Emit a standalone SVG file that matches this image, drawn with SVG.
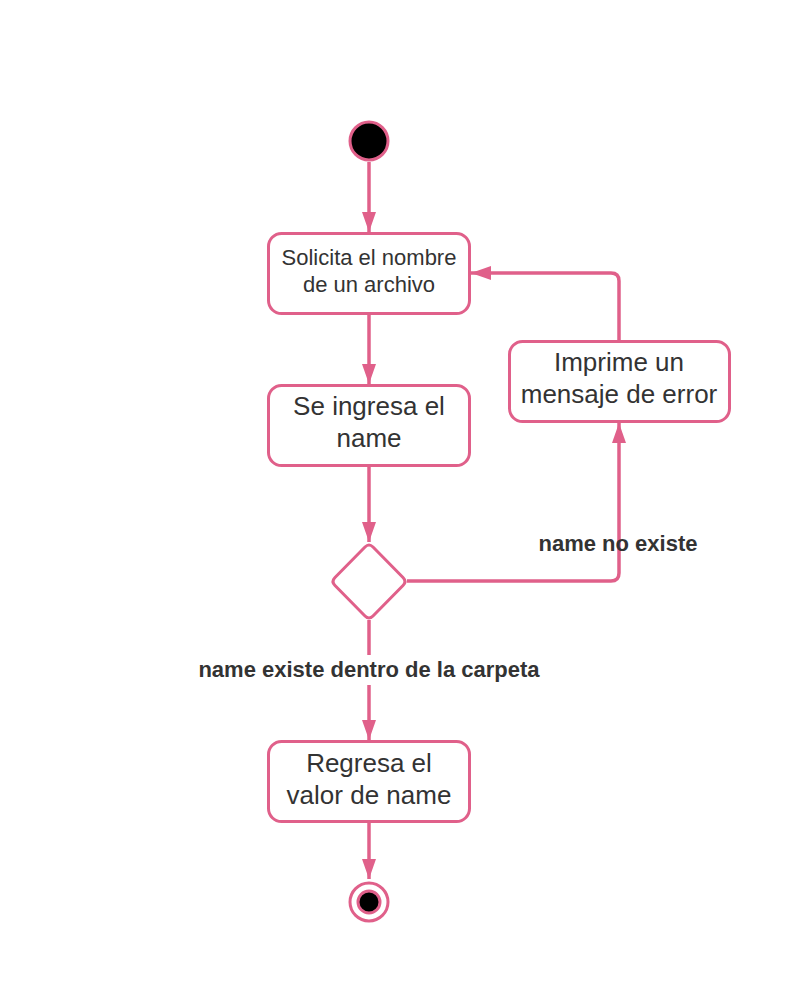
<svg xmlns="http://www.w3.org/2000/svg" width="793" height="990" viewBox="0 0 793 990">
<defs>
<style>
.node{fill:#fff;stroke:#e0608a;stroke-width:3}
.edge{fill:none;stroke:#e0608a;stroke-width:3.5}
.t{font-family:"Liberation Sans",Arial,sans-serif;fill:#333;text-anchor:middle}
.lbl{font-family:"Liberation Sans",Arial,sans-serif;fill:#333;font-weight:bold;font-size:22px;text-anchor:middle}
</style>
<marker id="ah" viewBox="0 0 20 14" refX="20" refY="7" markerWidth="20" markerHeight="14" markerUnits="userSpaceOnUse" orient="auto">
<path d="M0,0 L20,7 L0,14 Z" fill="#e0608a"/>
</marker>
</defs>
<rect width="793" height="990" fill="#fff"/>
<g id="connectors">
<path class="edge" d="M369,162 V232" marker-end="url(#ah)"/>
<path class="edge" d="M369,314 V384" marker-end="url(#ah)"/>
<path class="edge" d="M369,466 V542" marker-end="url(#ah)"/>
<path class="edge" d="M369,620 V740" marker-end="url(#ah)"/>
<path class="edge" d="M369,822 V879" marker-end="url(#ah)"/>
<path class="edge" d="M407,581 H611 Q619,581 619,573 V423" marker-end="url(#ah)"/>
<path class="edge" d="M619,341 V281 Q619,273 611,273 H471" marker-end="url(#ah)"/>
<rect x="190" y="655" width="358" height="30" fill="#fff"/>
<text class="lbl" x="369" y="677">name existe dentro de la carpeta</text>
<text class="lbl" x="618" y="551">name no existe</text>
</g>
<g id="start">
<circle cx="369" cy="141" r="19" fill="#000" stroke="#e0608a" stroke-width="3"/>
</g>
<g id="solicita">
<rect class="node" x="268.5" y="233.5" width="201" height="80" rx="13"/>
<text class="t" font-size="22" x="369" y="265">Solicita el nombre</text>
<text class="t" font-size="22" x="369" y="292">de un archivo</text>
</g>
<g id="ingresa">
<rect class="node" x="268.5" y="385.5" width="201" height="80" rx="13"/>
<text class="t" font-size="26" x="369" y="415">Se ingresa el</text>
<text class="t" font-size="26" x="369" y="447">name</text>
</g>
<g id="error">
<rect class="node" x="509.5" y="341.5" width="220" height="80" rx="13"/>
<text class="t" font-size="26" x="619" y="371">Imprime un</text>
<text class="t" font-size="26" x="619" y="403">mensaje de error</text>
</g>
<g id="decision">
<path class="node" stroke-linejoin="round" d="M365,547 Q369,543 373,547 L403,577.5 Q407,581.5 403,585.5 L373,616 Q369,620 365,616 L335,585.5 Q331,581.5 335,577.5 Z"/>
</g>
<g id="regresa">
<rect class="node" x="268.5" y="741.5" width="201" height="80" rx="13"/>
<text class="t" font-size="26" x="369" y="772">Regresa el</text>
<text class="t" font-size="26" x="369" y="804">valor de name</text>
</g>
<g id="end">
<circle cx="369" cy="902" r="19" fill="#fff" stroke="#e0608a" stroke-width="3"/>
<circle cx="369" cy="902" r="11" fill="#000" stroke="#e0608a" stroke-width="3"/>
</g>
</svg>
